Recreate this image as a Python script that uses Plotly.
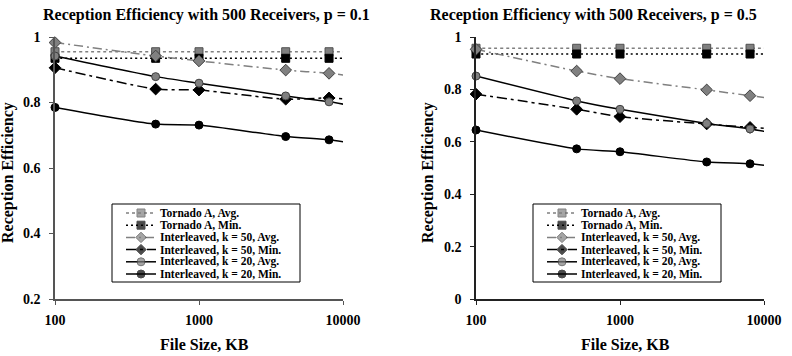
import plotly.graph_objects as go

W, H = 792, 356

# ---------------- data ----------------
file_sizes = [100, 500, 1000, 4000, 8000]
curve_end_size = 11000  # smoothed curves run on past the last marker

series_names = [
    "Tornado A, Avg.",
    "Tornado A, Min.",
    "Interleaved, k = 50, Avg.",
    "Interleaved, k = 50, Min.",
    "Interleaved, k = 20, Avg.",
    "Interleaved, k = 20, Min.",
]

# p = 0.1
p01_tornado_avg = [0.955, 0.955, 0.955, 0.955, 0.955]
p01_tornado_min = [0.935, 0.935, 0.935, 0.935, 0.935]
p01_k50_avg = [0.983, 0.942, 0.927, 0.899, 0.889]
p01_k50_min = [0.906, 0.841, 0.838, 0.810, 0.814]
p01_k20_avg = [0.942, 0.879, 0.859, 0.820, 0.802]
p01_k20_min = [0.785, 0.734, 0.731, 0.696, 0.686]
p01_curve_end = [0.955, 0.935, 0.882, 0.810, 0.792, 0.677]

# p = 0.5
p05_tornado_avg = [0.957, 0.957, 0.957, 0.957, 0.957]
p05_tornado_min = [0.935, 0.935, 0.935, 0.935, 0.935]
p05_k50_avg = [0.953, 0.870, 0.841, 0.798, 0.776]
p05_k50_min = [0.782, 0.724, 0.696, 0.668, 0.655]
p05_k20_avg = [0.851, 0.756, 0.724, 0.670, 0.649]
p05_k20_min = [0.645, 0.573, 0.562, 0.523, 0.516]
p05_curve_end = [0.957, 0.935, 0.766, 0.651, 0.636, 0.508]

x_tick_vals = [100, 1000, 10000]
x_tick_text = ["100", "1000", "10000"]
p01_y_ticks = [0.2, 0.4, 0.6, 0.8, 1.0]
p01_y_text = ["0.2", "0.4", "0.6", "0.8", "1"]
p05_y_ticks = [0, 0.2, 0.4, 0.6, 0.8, 1.0]
p05_y_text = ["0", "0.2", "0.4", "0.6", "0.8", "1"]

titles = ["Reception Efficiency with 500 Receivers, p = 0.1",
          "Reception Efficiency with 500 Receivers, p = 0.5"]
x_title = "File Size, KB"
y_title = "Reception Efficiency"

# ---------------- styles ----------------
GRAY = "#808080"
styles = [
    dict(lc=GRAY, dash="3px,3px", sym="square", fill=GRAY, edge="#505050", ms=8),
    dict(lc="black", dash="2px,3px", sym="square", fill="black", edge="black", ms=8),
    dict(lc=GRAY, dash="9px,4px,2px,4px", sym="diamond", fill=GRAY, edge="#404040", ms=9),
    dict(lc="black", dash="10px,4px,3px,4px", sym="diamond", fill="black", edge="black", ms=9),
    dict(lc="black", dash="solid", sym="circle", fill=GRAY, edge="#404040", ms=8),
    dict(lc="black", dash="solid", sym="circle", fill="black", edge="black", ms=8),
]

FONT = "Liberation Serif"

fig = go.Figure()

panels = [
    ("x", "y", [p01_tornado_avg, p01_tornado_min, p01_k50_avg, p01_k50_min, p01_k20_avg, p01_k20_min], p01_curve_end),
    ("x2", "y2", [p05_tornado_avg, p05_tornado_min, p05_k50_avg, p05_k50_min, p05_k20_avg, p05_k20_min], p05_curve_end),
]

for xa, ya, series, ends in panels:
    for name, vals, end, st in zip(series_names, series, ends, styles):
        xs = file_sizes + [curve_end_size]
        ys = vals + [end]
        fig.add_trace(go.Scatter(
            x=xs, y=ys, xaxis=xa, yaxis=ya, name=name, showlegend=False,
            mode="lines",
            line=dict(color=st["lc"], width=1.5, dash=st["dash"], shape="spline", smoothing=0.6),
            hoverinfo="skip",
        ))
    for name, vals, st in zip(series_names, series, styles):
        fig.add_trace(go.Scatter(
            x=file_sizes, y=vals, xaxis=xa, yaxis=ya, name=name, showlegend=False,
            mode="markers", cliponaxis=False,
            marker=dict(symbol=st["sym"], size=st["ms"], color=st["fill"],
                        line=dict(color=st["edge"], width=1)),
        ))

# ---------------- layout geometry (pixels) ----------------
panel_px = [dict(x0=55, x1=343, title_x=206, xt_x=204, yt_x=8, box_x=112, axc="#555555"),
            dict(x0=476, x1=764, title_x=593, xt_x=625, yt_x=428, box_x=533, axc="#222222")]
top_px, bot_px = 37, 299

def px_x(p):
    return p / W

def px_y(p):
    return 1 - p / H

tickfont = dict(family=FONT, size=14, color="black", weight="bold")

def xaxis_cfg(p):
    return dict(type="log", range=[2, 4], domain=[px_x(p["x0"]), px_x(p["x1"])],
                showline=True, linecolor=p["axc"], linewidth=1.5, ticks="outside",
                ticklen=4, tickcolor=p["axc"], tickvals=x_tick_vals, ticktext=x_tick_text,
                tickfont=tickfont, showgrid=False, zeroline=False, ticklabelstandoff=3)

def yaxis_cfg(p, rng, tv, tt):
    return dict(range=rng, domain=[px_y(bot_px), px_y(top_px)],
                showline=True, linecolor=p["axc"], linewidth=1.5, ticks="outside",
                ticklen=4, tickcolor=p["axc"], tickvals=tv, ticktext=tt,
                tickfont=tickfont, showgrid=False, zeroline=False, ticklabelstandoff=6)

layout = dict(
    width=W, height=H, margin=dict(l=0, r=0, t=0, b=0, pad=0, autoexpand=False),
    paper_bgcolor="white", plot_bgcolor="rgba(0,0,0,0)", showlegend=False,
    xaxis=dict(xaxis_cfg(panel_px[0]), anchor="y"),
    yaxis=dict(yaxis_cfg(panel_px[0], [0.2, 1.0], p01_y_ticks, p01_y_text), anchor="x"),
    xaxis2=dict(xaxis_cfg(panel_px[1]), anchor="y2"),
    yaxis2=dict(yaxis_cfg(panel_px[1], [0, 1.0], p05_y_ticks, p05_y_text), anchor="x2"),
    # full-page pixel overlay for titles and legend boxes
    xaxis3=dict(domain=[0, 1], range=[0, W], visible=False, fixedrange=True, anchor="y3"),
    yaxis3=dict(domain=[0, 1], range=[H, 0], visible=False, fixedrange=True, anchor="x3"),
)
fig.update_layout(**layout)

annotations = []
shapes = []
bold = lambda s: dict(family=FONT, size=s, color="black", weight="bold")

row_y0, row_step = 213, 12.2
for i, p in enumerate(panel_px):
    annotations.append(dict(x=p["title_x"], y=15, xref="x3", yref="y3", text=titles[i],
                            showarrow=False, font=bold(16), xanchor="center", yanchor="middle"))
    annotations.append(dict(x=p["xt_x"], y=344, xref="x3", yref="y3", text=x_title,
                            showarrow=False, font=bold(16), xanchor="center", yanchor="middle"))
    annotations.append(dict(x=p["yt_x"], y=173, xref="x3", yref="y3", text=y_title, textangle=-90,
                            showarrow=False, font=bold(16), xanchor="center", yanchor="middle"))
    bx = p["box_x"]
    shapes.append(dict(type="rect", xref="x3", yref="y3", x0=bx, x1=bx + 188, y0=204, y1=282,
                       line=dict(color="black", width=1), fillcolor="white", layer="below"))
    for j, (name, st) in enumerate(zip(series_names, styles)):
        ry = row_y0 + j * row_step
        fig.add_trace(go.Scatter(
            x=[bx + 14, bx + 29, bx + 44], y=[ry, ry, ry], xaxis="x3", yaxis="y3",
            mode="lines+markers", showlegend=False, hoverinfo="skip", cliponaxis=False,
            line=dict(color=st["lc"], width=1.5, dash=st["dash"]),
            marker=dict(symbol=st["sym"], size=[0, 8, 0], color=st["fill"],
                        line=dict(color=st["edge"], width=[0, 1, 0])),
        ))
        annotations.append(dict(x=bx + 47, y=ry, xref="x3", yref="y3", text=name,
                                showarrow=False, font=bold(11.5), borderpad=0,
                                xanchor="left", yanchor="middle"))

fig.update_layout(annotations=annotations, shapes=shapes)
fig.write_html("out.html")
